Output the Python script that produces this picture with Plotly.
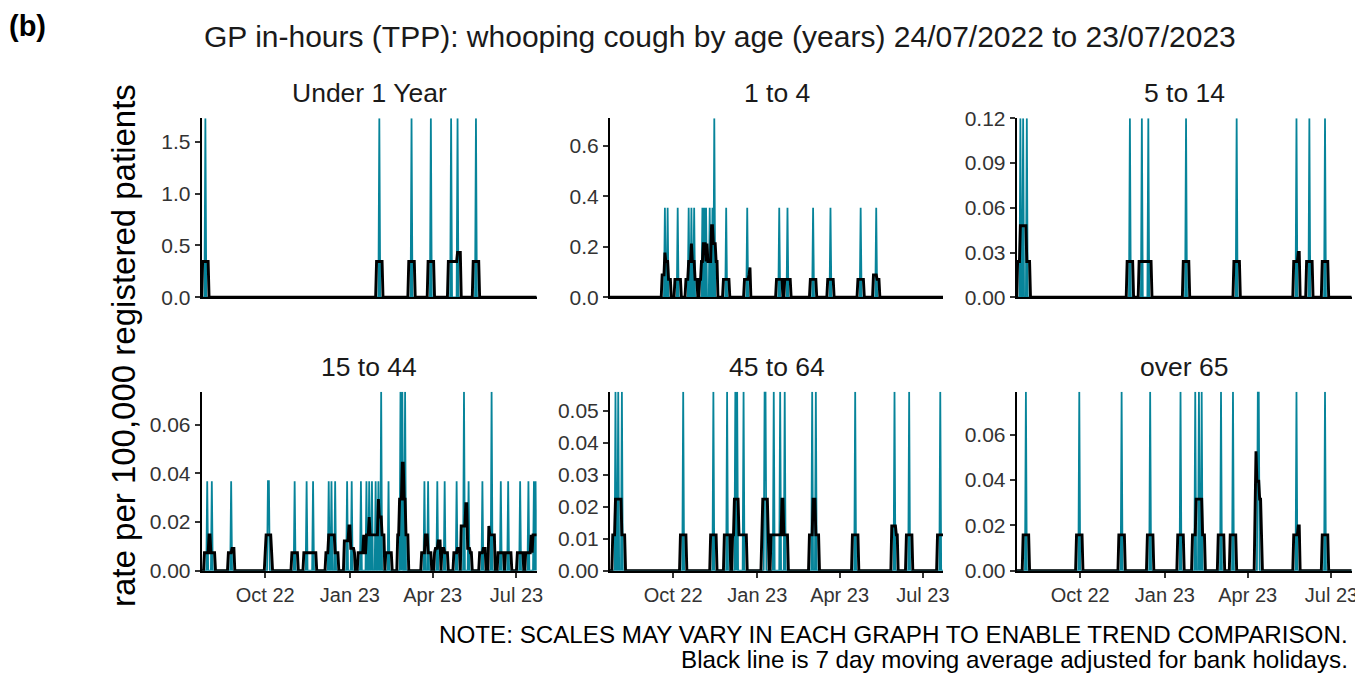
import pandas as pd
import numpy as np
import plotly.graph_objects as go

# ---------------- data ----------------
START = "2022-07-24"
END = "2023-07-23"

panel_titles = ["Under 1 Year", "1 to 4", "5 to 14", "15 to 44", "45 to 64", "over 65"]

under1_dates = ["2022-07-28", "2023-02-02", "2023-03-09", "2023-03-30", "2023-04-21",
                "2023-04-28", "2023-05-18"]
under1_rates = [1.726, 1.726, 1.726, 1.726, 1.726, 1.726, 1.726]

age1to4_dates = ["2022-09-22", "2022-09-25", "2022-10-06", "2022-10-18", "2022-10-21",
                 "2022-10-24", "2022-11-02", "2022-11-04", "2022-11-06", "2022-11-10",
                 "2022-11-13", "2022-11-15", "2022-11-28", "2022-12-21", "2023-01-25",
                 "2023-02-03", "2023-03-03", "2023-03-22", "2023-04-24", "2023-05-11"]
age1to4_rates = [0.354, 0.354, 0.354, 0.354, 0.354, 0.354, 0.354, 0.354, 0.354, 0.354,
                 0.354, 0.708, 0.354, 0.354, 0.354, 0.354, 0.354, 0.354, 0.354, 0.354]

age5to14_dates = ["2022-07-28", "2022-07-31", "2022-08-04", "2022-11-24", "2022-12-07",
                  "2022-12-14", "2023-01-24", "2023-03-20", "2023-05-24", "2023-06-07",
                  "2023-06-24"]
age5to14_rates = [0.12, 0.12, 0.12, 0.12, 0.12, 0.12, 0.12, 0.12, 0.12, 0.12, 0.12]

age15to44_dates = ["2022-07-30", "2022-08-04", "2022-08-25", "2022-10-04", "2022-10-05",
                   "2022-11-02", "2022-11-15", "2022-11-22", "2022-12-09", "2022-12-12",
                   "2022-12-16", "2022-12-29", "2023-01-03", "2023-01-13", "2023-01-19",
                   "2023-01-22", "2023-01-25", "2023-01-29", "2023-02-01", "2023-02-04",
                   "2023-02-12", "2023-02-25", "2023-02-27", "2023-03-02", "2023-03-23",
                   "2023-03-27", "2023-04-06", "2023-04-14", "2023-04-27", "2023-05-05",
                   "2023-05-10", "2023-05-25", "2023-06-04", "2023-06-14", "2023-06-22",
                   "2023-07-05", "2023-07-14", "2023-07-20", "2023-07-22"]
age15to44_rates = [0.0368, 0.0368, 0.0368, 0.0368, 0.0368,
                   0.0368, 0.0368, 0.0368, 0.0368, 0.0368,
                   0.0368, 0.0368, 0.0368, 0.0368, 0.0368,
                   0.0368, 0.0368, 0.0368, 0.0368, 0.0736,
                   0.0368, 0.0736, 0.0736, 0.0736, 0.0368,
                   0.0368, 0.0368, 0.0368, 0.0368, 0.0736,
                   0.0368, 0.0368, 0.0736, 0.0368, 0.0368,
                   0.0368, 0.0368, 0.0368, 0.0368]

age45to64_dates = ["2022-07-30", "2022-08-02", "2022-08-06", "2022-10-12", "2022-11-14",
                   "2022-11-29", "2022-12-08", "2022-12-10", "2022-12-17", "2023-01-09",
                   "2023-01-10", "2023-01-19", "2023-01-26", "2023-01-31", "2023-03-02",
                   "2023-03-06", "2023-04-18", "2023-05-31", "2023-06-16", "2023-07-20"]
age45to64_rates = [0.0559, 0.0559, 0.0559, 0.0559, 0.0559,
                   0.0559, 0.0559, 0.0559, 0.0559, 0.0559,
                   0.0559, 0.0559, 0.0559, 0.0559, 0.0559,
                   0.0559, 0.0559, 0.0559, 0.0559, 0.0559]

over65_dates = ["2022-08-03", "2022-09-30", "2022-11-15", "2022-12-16", "2023-01-18",
                "2023-02-03", "2023-02-07", "2023-02-10", "2023-03-03", "2023-03-16",
                "2023-04-12", "2023-04-13", "2023-05-24", "2023-06-24"]
over65_rates = [0.079, 0.079, 0.079, 0.079, 0.079, 0.079, 0.079, 0.079, 0.079, 0.079,
                0.079, 0.079, 0.079, 0.079]

y_max = [1.726, 0.708, 0.12, 0.0736, 0.0559, 0.079]
y_tickvals = [[0, 0.5, 1.0, 1.5],
              [0, 0.2, 0.4, 0.6],
              [0, 0.03, 0.06, 0.09, 0.12],
              [0, 0.02, 0.04, 0.06],
              [0, 0.01, 0.02, 0.03, 0.04, 0.05],
              [0, 0.02, 0.04, 0.06]]
y_decimals = [1, 1, 2, 2, 2, 2]

x_tickvals = ["2022-10-01", "2023-01-01", "2023-04-01", "2023-07-01"]
x_ticktext = ["Oct 22", "Jan 23", "Apr 23", "Jul 23"]

bank_holidays = ["2022-08-29", "2022-09-19", "2022-12-26", "2022-12-27", "2023-01-02",
                 "2023-04-07", "2023-04-10", "2023-05-01", "2023-05-08", "2023-05-29"]

panel_dates = [under1_dates, age1to4_dates, age5to14_dates,
               age15to44_dates, age45to64_dates, over65_dates]
panel_rates = [under1_rates, age1to4_rates, age5to14_rates,
               age15to44_rates, age45to64_rates, over65_rates]

# ---------------- daily series + 7 day moving average ----------------
ext = pd.date_range(pd.Timestamp(START) - pd.Timedelta(days=3),
                    pd.Timestamp(END) + pd.Timedelta(days=3))
bh = pd.to_datetime(bank_holidays)
workday = pd.Series(((ext.weekday < 5) & (~ext.isin(bh))).astype(float), index=ext)
wd_count = workday.rolling(7, center=True).sum()
days = pd.date_range(START, END)

TEAL = "#07849A"
FONT = "Liberation Sans, Arial, sans-serif"

W, H = 1355, 673
col_px = [(201.7, 536.7), (610.0, 943.0), (1016.7, 1351.7)]
row_px = [(118.3, 297.3), (391.7, 570.7)]

fig = go.Figure()
annotations = []
for i in range(6):
    r, c = divmod(i, 3)
    daily = pd.Series(0.0, index=ext)
    for d, v in zip(panel_dates[i], panel_rates[i]):
        daily[pd.Timestamp(d)] += v
    ma = (daily.rolling(7, center=True).sum() / wd_count).reindex(days)
    dvals = daily.reindex(days)
    xa = "x" if i == 0 else f"x{i+1}"
    ya = "y" if i == 0 else f"y{i+1}"
    fig.add_trace(go.Scatter(x=days, y=dvals, mode="lines", xaxis=xa, yaxis=ya,
                             line=dict(color=TEAL, width=1.8), showlegend=False,
                             hoverinfo="skip"))
    fig.add_trace(go.Scatter(x=days, y=ma, mode="lines", xaxis=xa, yaxis=ya,
                             line=dict(color="black", width=2.9), showlegend=False))
    x0, x1 = col_px[c]
    y0, y1 = row_px[r]
    xkey = "xaxis" if i == 0 else f"xaxis{i+1}"
    ykey = "yaxis" if i == 0 else f"yaxis{i+1}"
    bottom = r == 1
    fig.update_layout(**{
        xkey: dict(domain=[x0 / W, x1 / W], anchor=ya, range=[START, END],
                   automargin=False, ticklabeloverflow="allow",
                   showline=True, linecolor="black", linewidth=2, showgrid=False,
                   zeroline=False, tickmode="array", tickvals=x_tickvals,
                   ticktext=x_ticktext, showticklabels=bottom,
                   ticks="outside" if bottom else "", ticklen=5, tickwidth=1.5,
                   tickcolor="#333333",
                   tickfont=dict(family=FONT, size=20, color="#333333")),
        ykey: dict(domain=[1 - y1 / H, 1 - y0 / H], anchor=xa, range=[0, y_max[i]],
                   automargin=False,
                   showline=True, linecolor="black", linewidth=2, showgrid=False,
                   zeroline=False, tickmode="array", tickvals=y_tickvals[i],
                   ticktext=[f"{t:.{y_decimals[i]}f}" for t in y_tickvals[i]],
                   ticks="outside", ticklen=5, tickwidth=1.5, tickcolor="#333333",
                   tickfont=dict(family=FONT, size=21, color="#333333")),
    })
    annotations.append(dict(text=panel_titles[i], x=(x0 + x1) / 2 / W,
                            y=1 - (y0 - 25) / H, xref="paper", yref="paper",
                            showarrow=False, xanchor="center", yanchor="middle",
                            font=dict(family=FONT, size=26.5, color="#1a1a1a")))

annotations += [
    dict(text="GP in-hours (TPP): whooping cough by age (years) 24/07/2022 to 23/07/2023",
         x=720 / W, y=1 - 36 / H, xref="paper", yref="paper", showarrow=False,
         xanchor="center", yanchor="middle", font=dict(family=FONT, size=30, color="#1a1a1a")),
    dict(text="<b>(b)</b>", x=7 / W, y=1 - 26 / H, xref="paper", yref="paper",
         showarrow=False, xanchor="left", yanchor="middle",
         font=dict(family=FONT, size=29, color="black")),
    dict(text="rate per 100,000 registered patients", x=124 / W, y=1 - 346 / H,
         xref="paper", yref="paper", showarrow=False, textangle=-90,
         xanchor="center", yanchor="middle", font=dict(family=FONT, size=33, color="black")),
    dict(text="NOTE: SCALES MAY VARY IN EACH GRAPH TO ENABLE TREND COMPARISON.",
         x=1350 / W, y=1 - 634 / H, xref="paper", yref="paper", showarrow=False,
         xanchor="right", yanchor="middle", font=dict(family=FONT, size=24.2, color="black")),
    dict(text="Black line is 7 day moving average adjusted for bank holidays.",
         x=1350 / W, y=1 - 659 / H, xref="paper", yref="paper", showarrow=False,
         xanchor="right", yanchor="middle", font=dict(family=FONT, size=24.2, color="black")),
]

fig.update_layout(width=W, height=H, margin=dict(l=0, r=0, t=0, b=0, autoexpand=False),
                  paper_bgcolor="white", plot_bgcolor="white",
                  annotations=annotations, font=dict(family=FONT))
fig.write_html("out.html", config={"displayModeBar": False},
               post_script="document.body.style.margin='0';document.body.style.overflow='hidden';")
